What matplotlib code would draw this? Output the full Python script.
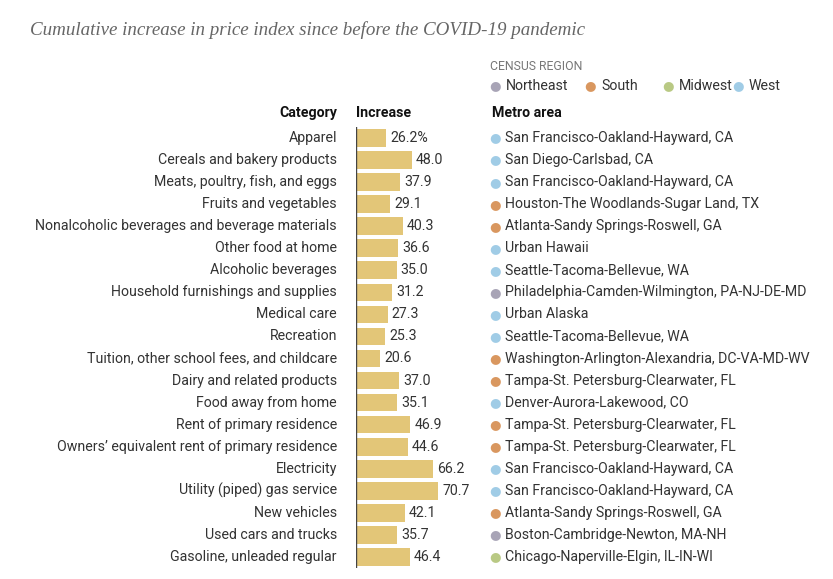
import matplotlib.pyplot as plt
from matplotlib.transforms import blended_transform_factory

categories = [
    'Apparel', 'Cereals and bakery products', 'Meats, poultry, fish, and eggs',
    'Fruits and vegetables', 'Nonalcoholic beverages and beverage materials',
    'Other food at home', 'Alcoholic beverages', 'Household furnishings and supplies',
    'Medical care', 'Recreation', 'Tuition, other school fees, and childcare',
    'Dairy and related products', 'Food away from home', 'Rent of primary residence',
    "Owners\u2019 equivalent rent of primary residence", 'Electricity',
    'Utility (piped) gas service', 'New vehicles', 'Used cars and trucks',
    'Gasoline, unleaded regular',
]
increase = [26.2, 48.0, 37.9, 29.1, 40.3, 36.6, 35.0, 31.2, 27.3, 25.3,
            20.6, 37.0, 35.1, 46.9, 44.6, 66.2, 70.7, 42.1, 35.7, 46.4]
metros = [
    'San Francisco-Oakland-Hayward, CA', 'San Diego-Carlsbad, CA',
    'San Francisco-Oakland-Hayward, CA', 'Houston-The Woodlands-Sugar Land, TX',
    'Atlanta-Sandy Springs-Roswell, GA', 'Urban Hawaii', 'Seattle-Tacoma-Bellevue, WA',
    'Philadelphia-Camden-Wilmington, PA-NJ-DE-MD', 'Urban Alaska',
    'Seattle-Tacoma-Bellevue, WA', 'Washington-Arlington-Alexandria, DC-VA-MD-WV',
    'Tampa-St. Petersburg-Clearwater, FL', 'Denver-Aurora-Lakewood, CO',
    'Tampa-St. Petersburg-Clearwater, FL', 'Tampa-St. Petersburg-Clearwater, FL',
    'San Francisco-Oakland-Hayward, CA', 'San Francisco-Oakland-Hayward, CA',
    'Atlanta-Sandy Springs-Roswell, GA', 'Boston-Cambridge-Newton, MA-NH',
    'Chicago-Naperville-Elgin, IL-IN-WI',
]
regions = ['West', 'West', 'West', 'South', 'South', 'West', 'West', 'Northeast',
           'West', 'West', 'South', 'South', 'West', 'South', 'South', 'West',
           'West', 'South', 'Northeast', 'Midwest']
region_names = ['Northeast', 'South', 'Midwest', 'West']

region_colors = {'Northeast': '#a8a4b6', 'South': '#d9975f',
                 'Midwest': '#b9c984', 'West': '#a0cce6'}
bar_color = '#e3c678'
text_color = '#333333'

W, H = 833, 579
fig = plt.figure(figsize=(W / 100, H / 100), dpi=100)
plt.rcParams['font.family'] = ['Roboto', 'DejaVu Sans']

n = len(categories)
row_h = 22.05
top = 138 - row_h / 2
bottom = top + n * row_h
left = 356
xmax = 80
px_per_unit = 1.16
ax = fig.add_axes([left / W, 1 - bottom / H, xmax * px_per_unit / W, (bottom - top) / H])
ax.set_xlim(0, xmax)
ax.set_ylim(n - 0.5, -0.5)
ax.barh(range(n), increase, height=0.8, color=bar_color)
ax.axis('off')
ax.axvline(0, color='#444444', lw=1)

tr = blended_transform_factory(fig.transFigure, ax.transData)
fs = 10.2
for i, (cat, val, metro, reg) in enumerate(zip(categories, increase, metros, regions)):
    fig.text(337 / W, i, cat, transform=tr, ha='right', va='center', fontsize=fs, color=text_color)
    lab = f'{val:.1f}%' if i == 0 else f'{val:.1f}'
    ax.annotate(lab, (val, i), xytext=(3, 0), textcoords='offset points',
                ha='left', va='center', fontsize=fs, color=text_color)
    fig.text(495 / W, i, '\u25cf', transform=tr, ha='center', va='center',
             fontsize=9.5, color=region_colors[reg], family='DejaVu Sans')
    fig.text(505 / W, i, metro, transform=tr, ha='left', va='center', fontsize=fs, color=text_color)

# headers
hy = 1 - 113 / H
fig.text(337 / W, hy, 'Category', ha='right', va='center', fontsize=fs, weight='bold', color='#111111')
fig.text(356 / W, hy, 'Increase', ha='left', va='center', fontsize=fs, weight='bold', color='#111111')
fig.text(492 / W, hy, 'Metro area', ha='left', va='center', fontsize=fs, weight='bold', color='#111111')

# legend
fig.text(490 / W, 1 - 67 / H, 'CENSUS REGION', ha='left', va='center', fontsize=8.8, color='#777777')
leg_x = [495, 590, 668, 738]
for name, x in zip(region_names, leg_x):
    fig.text(x / W, 1 - 86 / H, '\u25cf', ha='center', va='center', fontsize=9.5,
             color=region_colors[name], family='DejaVu Sans')
    fig.text((x + 11) / W, 1 - 86 / H, name, ha='left', va='center', fontsize=fs, color=text_color)

fig.text(30 / W, 1 - 30 / H, 'Cumulative increase in price index since before the COVID-19 pandemic',
         ha='left', va='center', fontsize=13.7, style='italic', family='Liberation Serif', color='#666666')

fig.savefig('out.png', dpi=100)
